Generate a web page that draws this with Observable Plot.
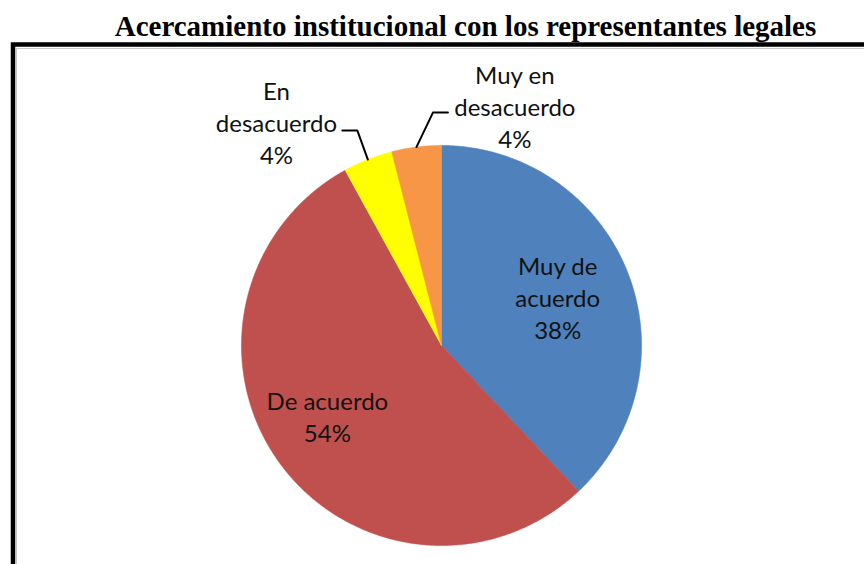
<!DOCTYPE html>
<html>
<head>
<meta charset="utf-8">
<script src="https://cdn.jsdelivr.net/npm/d3@7"></script>
<script src="https://cdn.jsdelivr.net/npm/@observablehq/plot@0.6"></script>
<style>
  html, body { margin: 0; padding: 0; background: #fff; }
  svg { display: block; }
</style>
</head>
<body>
<div id="chart"></div>
<script>
// ---- data ----
const title = "Acercamiento institucional con los representantes legales";
const categories = ["Muy de acuerdo", "De acuerdo", "En desacuerdo", "Muy en desacuerdo"];
const values = [38, 54, 4, 4];
const labelLines = [["Muy de", "acuerdo"], ["De acuerdo"], ["En", "desacuerdo"], ["Muy en", "desacuerdo"]];
const colors = ["#4F81BD", "#C0504D", "#FFFF00", "#F79646"];

// ---- layout (pixels) ----
const W = 864, H = 564;
const CX = 441, CY = 345, R = 200;
// label placement: radial fraction + pixel offset; leader: [elbow, end] offsets from slice edge
const labelPlace = [
  {rho: 0.625, dx: 0, dy: -3},
  {rho: 0.625, dx: -13, dy: -3},
  {rho: 1, dx: -91.4, dy: -37.4, leader: [[-10.5, -29], [-25.5, -29]]},
  {rho: 1, dx: 98.4, dy: -41, leader: [[16.5, -34.5], [31.5, -34.5]]}
];

const total = d3.sum(values);
let acc = 0;
const slices = categories.map((c, i) => {
  const a0 = acc / total * 2 * Math.PI;
  acc += values[i];
  const a1 = acc / total * 2 * Math.PI;
  return {cat: c, value: values[i], a0, a1, mid: (a0 + a1) / 2, color: colors[i], i};
});

// polygon vertices of each slice (unit circle, angle clockwise from 12 o'clock)
function slicePoints(s) {
  const n = Math.max(2, Math.ceil((s.a1 - s.a0) / (Math.PI / 360)));
  const pts = [{x: 0, y: 0}];
  for (let k = 0; k <= n; k++) {
    const a = s.a0 + (s.a1 - s.a0) * k / n;
    pts.push({x: Math.sin(a), y: Math.cos(a)});
  }
  pts.push({x: 0, y: 0});
  return pts;
}

const labels = slices.map(s => {
  const p = labelPlace[s.i];
  return {
    x: p.rho * Math.sin(s.mid) + p.dx / R,
    y: p.rho * Math.cos(s.mid) - p.dy / R,
    text: [...labelLines[s.i], `${Math.round(s.value / total * 100)}%`].join("\n")
  };
});

const leaders = [];
slices.forEach(s => {
  const p = labelPlace[s.i];
  if (!p.leader) return;
  const sx = Math.sin(s.mid), sy = Math.cos(s.mid);
  leaders.push({x: sx, y: sy, k: s.i});
  p.leader.forEach(([ox, oy]) => leaders.push({x: sx + ox / R, y: sy - oy / R, k: s.i}));
});

const marks = [];
slices.forEach(s => {
  marks.push(Plot.line(slicePoints(s), {x: "x", y: "y", fill: s.color, stroke: s.color, strokeWidth: 0.6, curve: "linear"}));
});
marks.push(Plot.line(leaders, {x: "x", y: "y", z: "k", stroke: "#000", strokeWidth: 2}));
marks.push(Plot.text(labels, {
  x: "x", y: "y", text: "text",
  fontFamily: "Lato, 'Open Sans', sans-serif", fontSize: 24, lineHeight: 1.333,
  fill: "#111", textAnchor: "middle", lineAnchor: "middle"
}));
marks.push(Plot.text([title], {
  frameAnchor: "top", dx: 33, dy: 14.5,
  fontFamily: "'Liberation Serif', 'Times New Roman', serif", fontWeight: "bold", fontSize: 29, fill: "#000"
}));
// outer frame (partially visible, like the cropped reference)
marks.push(Plot.frame({insetTop: 48, insetLeft: 16, insetRight: -20, insetBottom: -20, stroke: "#c8c8c8", strokeWidth: 1}));
marks.push(Plot.frame({insetTop: 44, insetLeft: 12.5, insetRight: -20, insetBottom: -20, stroke: "#000", strokeWidth: 4.5}));

const chart = Plot.plot({
  width: W, height: H,
  margin: 0,
  x: {type: "linear", domain: [-CX / R, (W - CX) / R], range: [0, W], axis: null},
  y: {type: "linear", domain: [-(H - CY) / R, CY / R], range: [H, 0], axis: null},
  style: {background: "#fff", overflow: "hidden"},
  marks
});
document.getElementById("chart").appendChild(chart);
</script>
</body>
</html>
